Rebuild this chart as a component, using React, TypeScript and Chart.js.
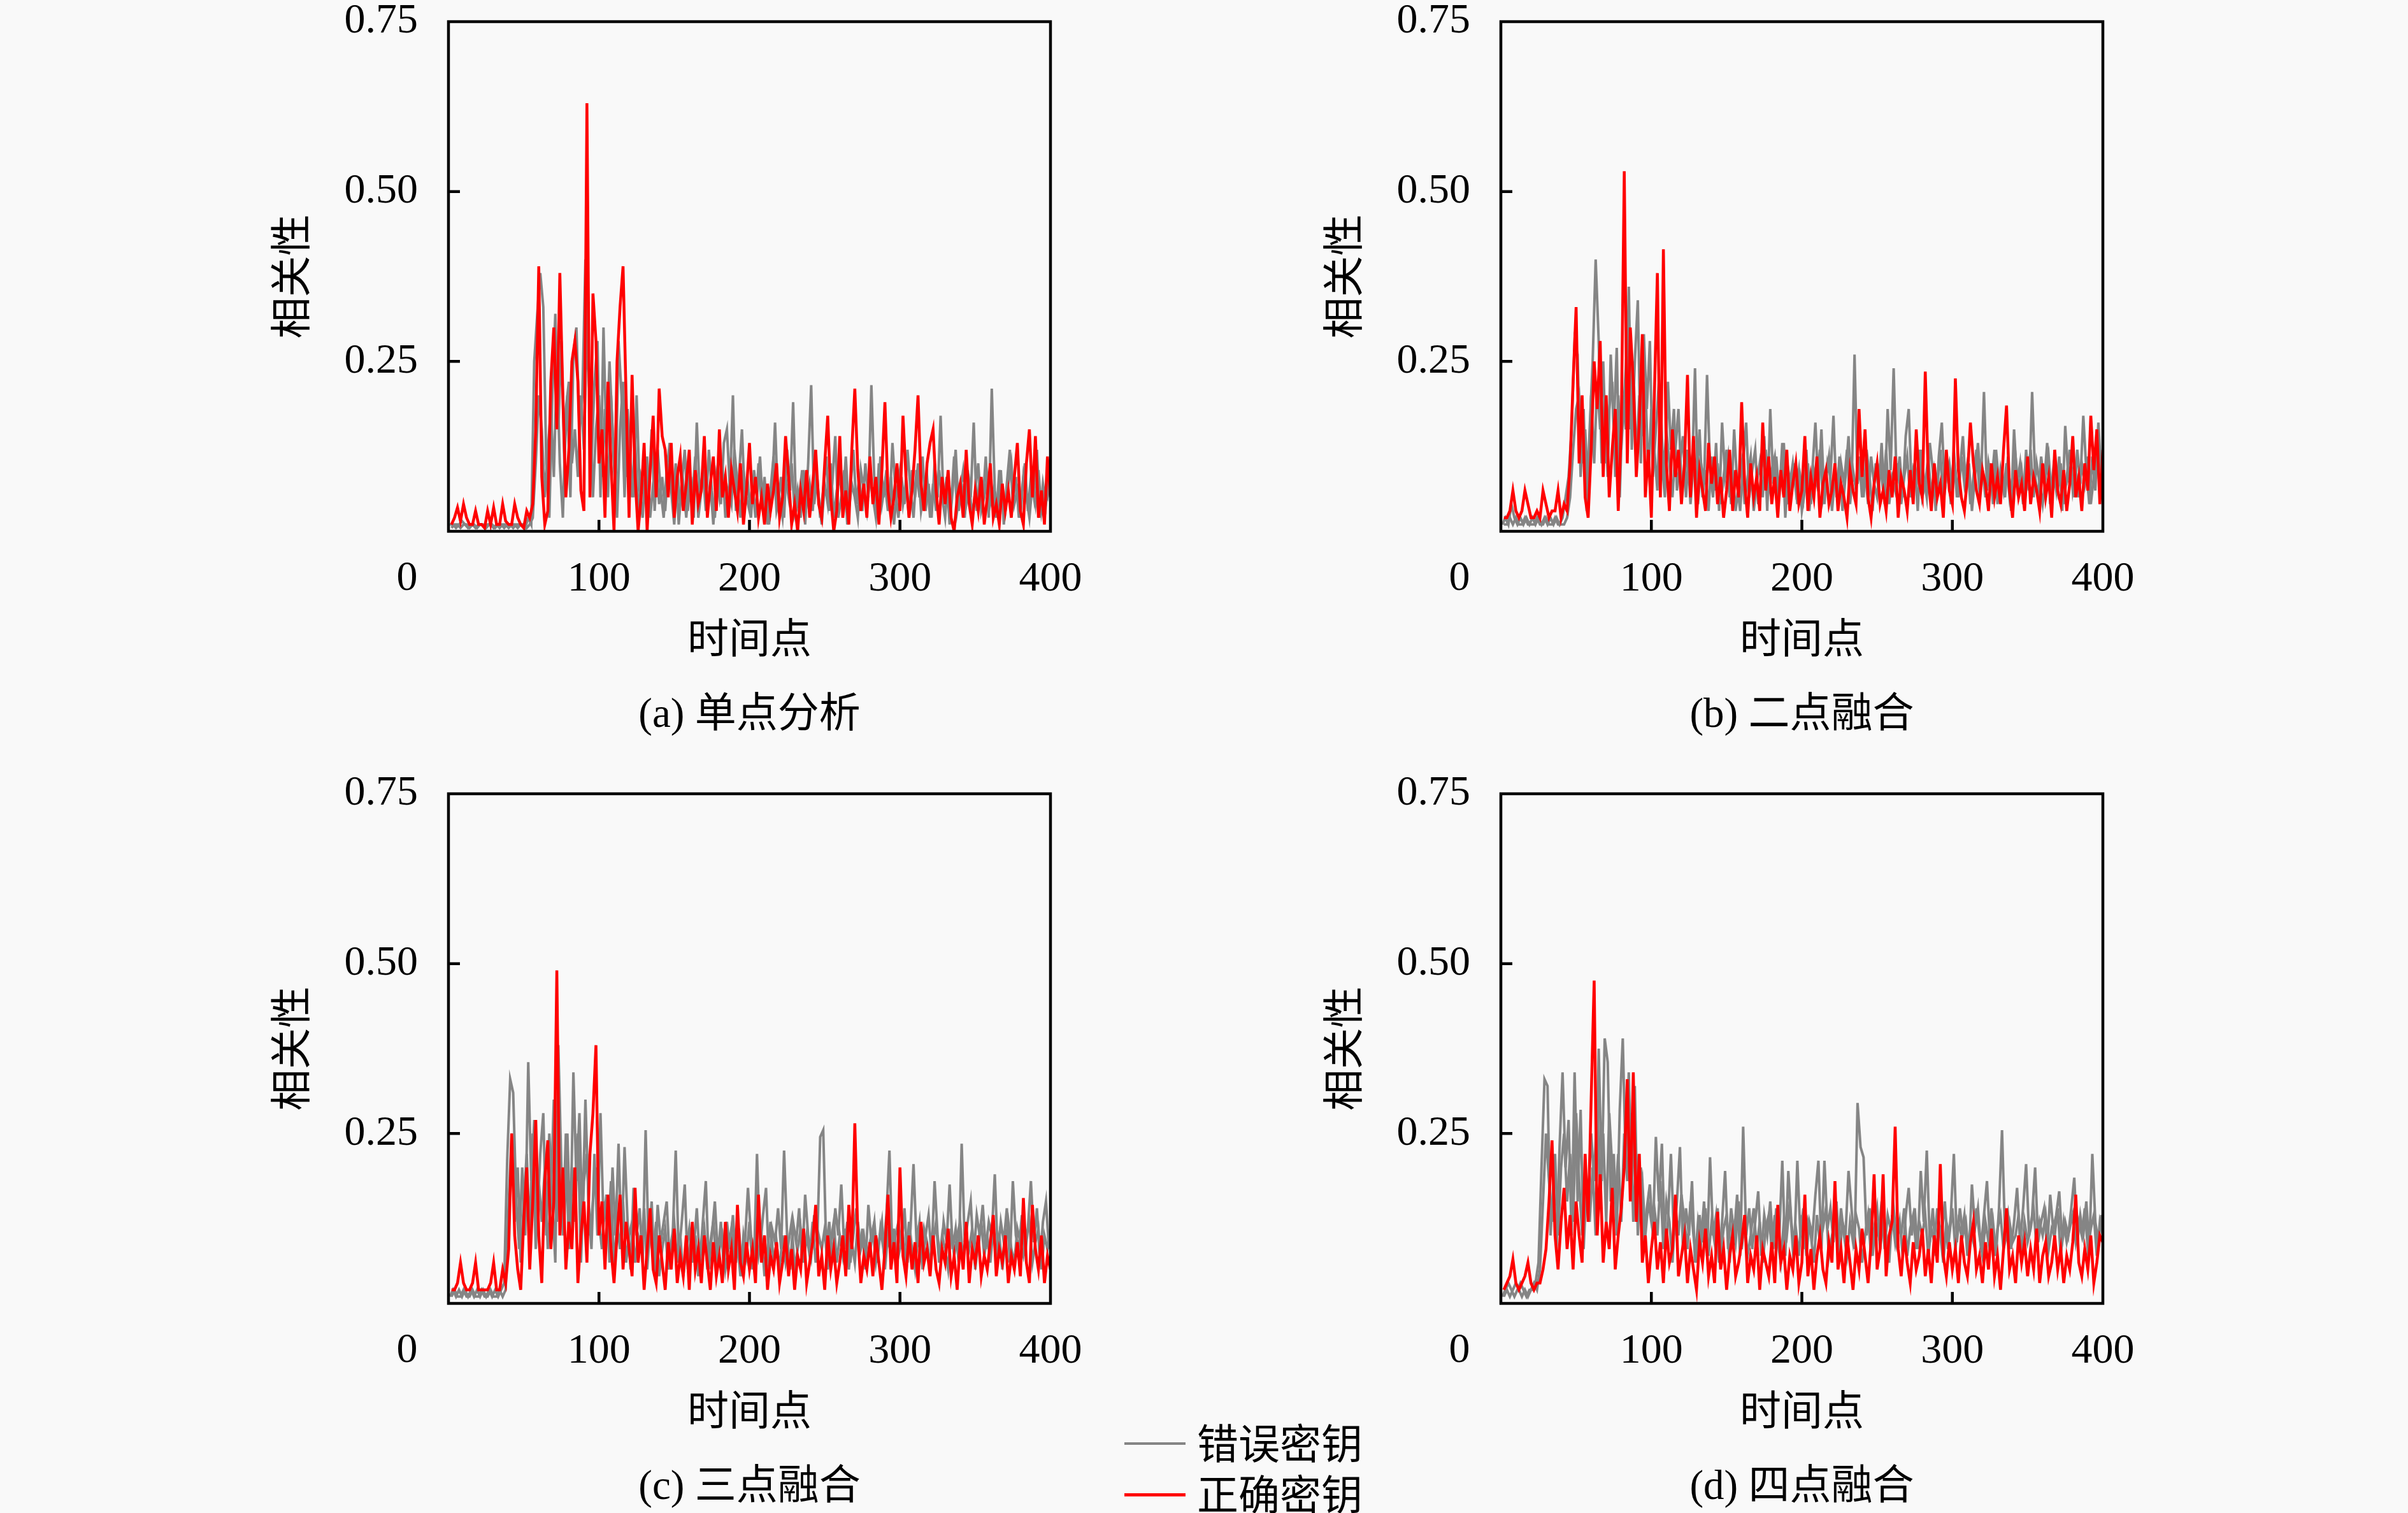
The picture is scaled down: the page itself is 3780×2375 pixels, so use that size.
import { useEffect, useRef } from "react";
import { Chart, registerables } from "chart.js";

Chart.register(...registerables);

const FONT = '"Liberation Serif", "Noto Sans CJK SC", serif';
const RED = "#ff0000";
const GRAY = "#858585";

const xTicks = [0, 100, 200, 300, 400];
const yTicks = [0, 0.25, 0.5, 0.75];
const legendLabels = ["错误密钥", "正确密钥"];

// correct key sampled on even time points, one wrong key on odd points, one on even points

// (a) 单点分析
const redA = [
  .01, .02, .035, .015, .04, .02, .01, .01, .03, .01,
  .01, .005, .03, .01, .035, .01, .01, .04, .015, .01,
  .01, .04, .02, .01, .005, .03, .02, .04, .15, .39,
  .08, .01, .03, .22, .30, .15, .38, .20, .05, .12,
  .25, .28, .22, .06, .03, .63, .05, .35, .28, .10,
  .15, .02, .22, .10, 0, .25, .33, .39, .20, .02,
  .23, .08, 0, .05, .13, 0, .09, .17, .05, .21,
  .14, .12, .05, .13, .02, .08, .11, .03, .07, .12,
  .01, .09, .04, .06, .14, .02, .07, .11, .03, .15,
  .05, .08, .02, .09, .06, .03, .10, .01, .06, .13,
  .04, .08, .02, .05, .01, .07, .03, .06, .10, .02,
  .05, .14, .08, .01, .04, 0, .06, .03, .09, .02,
  .07, .12, .04, .02, .10, .17, .05, 0, .03, .14,
  .02, .06, .01, .12, .21, .09, .03, .07, .02, .11,
  .04, .08, .01, .09, .19, .06, .02, .05, .10, .03,
  .17, .08, .02, .06, .12, .20, .07, .03, .10, .13,
  .15, .06, .01, .08, .04, .09, .02, 0, .05, .07,
  .02, .12, .04, .01, .06, .03, .08, .01, .05, .10,
  .02, .04, .01, .07, .03, .06, .02, .08, .13, .03,
  .01, .10, .15, .05, .14, .02, .06, .01, .11, .05,
];
const grayOddA = [
  .01, .01, .005, .01, .015, .01, .005, .01, .01, .005,
  .01, .01, .005, .01, .01, .005, .01, .01, .005, .01,
  .01, .005, .01, .01, .01, .005, .02, .01, .25, .32,
  .38, .33, .10, .02, .20, .32, .15, .28, .10, .20,
  .05, .26, .30, .15, .20, .40, .25, .10, .22, .28,
  .05, .30, .12, .25, .15, .05, .28, .20, .05, .18,
  .10, .05, .20, .06, .02, .10, .04, .15, .03, .12,
  .06, .02, .09, .13, .04, .10, .01, .07, .12, .03,
  .08, .02, .16, .05, .09, .03, .12, .06, .02, .10,
  .04, .13, .15, .06, .20, .03, .08, .15, .04, .07,
  .02, .09, .05, .11, .03, .07, .01, .06, .16, .04,
  .08, .02, .12, .06, .19, .03, .05, .09, .01, .10,
  .215, .04, .08, .02, .06, .11, .03, .07, .14, .02,
  .05, .09, .01, .06, .12, .04, .08, .03, .10, .05,
  .215, .07, .02, .11, .05, .09, .03, .13, .06, .02,
  .08, .04, .12, .06, .02, .09, .05, .11, .03, .07,
  .02, .10, .05, .17, .04, .08, .01, .06, .12, .03,
  .07, .02, .09, .05, .16, .03, .08, .04, .11, .02,
  .21, .06, .03, .09, .01, .07, .12, .04, .08, .02,
  .06, .10, .03, .08, .05, .12, .02, .07, .04, .09,
];
const grayEvenA = [
  .005, .01, .01, .005, .01, .01, .005, .01, .005, .01,
  .01, .005, .01, .01, .005, .01, .005, .01, .01, .005,
  .01, .01, .005, .01, .01, .005, .01, .02, .10, .20,
  .15, .05, .12, .18, .08, .25, .10, .02, .18, .22,
  .10, .15, .08, .20, .12, .30, .18, .05, .15, .20,
  .08, .18, .05, .20, .10, .02, .15, .22, .08, .12,
  .05, .14, .02, .08, .06, .11, .02, .07, .10, .04,
  .08, .03, .10, .06, .01, .09, .04, .07, .02, .08,
  .05, .11, .02, .06, .09, .03, .07, .01, .08, .05,
  .10, .02, .06, .04, .12, .07, .02, .09, .05, .03,
  .07, .02, .10, .04, .08, .01, .06, .11, .03, .05,
  .02, .08, .05, .10, .03, .06, .02, .09, .04, .07,
  .03, .09, .05, .01, .07, .04, .10, .02, .06, .08,
  .04, .11, .03, .07, .05, .02, .09, .06, .03, .08,
  .05, .02, .10, .04, .07, .03, .08, .01, .06, .09,
  .04, .07, .02, .09, .05, .10, .03, .06, .08, .02,
  .07, .03, .09, .05, .02, .08, .04, .11, .03, .06,
  .09, .04, .07, .02, .06, .10, .03, .05, .08, .04,
  .06, .02, .09, .05, .03, .07, .10, .04, .06, .02,
  .08, .05, .02, .07, .04, .09, .03, .06, .05, .08,
];

// (b) 二点融合
const redB = [
  .02, .02, .03, .06, .03, .02, .03, .06, .04, .02,
  .02, .03, .02, .06, .04, .02, .03, .03, .06, .02,
  .04, .03, .10, .22, .33, .10, .20, .05, .02, .12,
  .25, .18, .28, .08, .20, .05, .12, .18, .03, .15,
  .53, .10, .30, .22, .08, .16, .29, .05, .12, .02,
  .20, .38, .05, .415, .10, .03, .15, .08, .12, .04,
  .10, .23, .05, .14, .02, .09, .06, .03, .13, .07,
  .11, .04, .08, .02, .06, .12, .03, .09, .05, .19,
  .07, .02, .10, .05, .08, .03, .16, .06, .11, .04,
  .08, .02, .09, .05, .12, .03, .07, .10, .04, .06,
  .14, .03, .08, .05, .11, .02, .07, .09, .04, .06,
  .10, .03, .07, .05, .02, .09, .06, .04, .18, .08,
  .15, .05, .02, .07, .10, .04, .06, .03, .09, .05,
  .11, .02, .08, .06, .03, .09, .04, .15, .07, .05,
  .235, .08, .03, .10, .05, .07, .02, .12, .06, .04,
  .225, .09, .05, .03, .08, .16, .10, .06, .04, .09,
  .07, .03, .10, .05, .08, .04, .12, .185, .06, .02,
  .09, .05, .07, .03, .11, .04, .08, .06, .03, .10,
  .05, .08, .02, .12, .06, .04, .09, .03, .07, .14,
  .05, .08, .03, .10, .06, .17, .09, .15, .04, .12,
];
const grayOddB = [
  .01, .02, .01, .04, .02, .01, .02, .01, .02, .01,
  .02, .01, .02, .01, .02, .01, .02, .01, .02, .01,
  .02, .05, .08, .15, .28, .26, .08, .18, .03, .15,
  .25, .40, .28, .10, .20, .08, .26, .15, .27, .05,
  .20, .15, .36, .12, .25, .34, .10, .29, .18, .28,
  .08, .15, .22, .10, .05, .22, .12, .18, .06, .10,
  .14, .05, .12, .08, .24, .04, .10, .07, .23, .09,
  .05, .13, .03, .16, .08, .11, .04, .15, .07, .03,
  .10, .16, .05, .09, .12, .04, .08, .14, .03, .18,
  .07, .11, .05, .13, .02, .09, .06, .10, .04, .08,
  .05, .12, .03, .09, .16, .06, .15, .04, .10, .08,
  .17, .05, .11, .03, .08, .14, .06, .26, .07, .10,
  .05, .12, .08, .03, .10, .06, .13, .04, .18, .09,
  .24, .07, .11, .05, .14, .18, .06, .10, .03, .12,
  .08, .05, .13, .09, .03, .11, .16, .06, .10, .04,
  .12, .05, .09, .14, .06, .10, .03, .08, .13, .07,
  .205, .06, .10, .04, .12, .07, .09, .05, .11, .03,
  .15, .07, .10, .04, .12, .06, .205, .08, .05, .11,
  .07, .13, .04, .09, .06, .11, .03, .155, .08, .10,
  .05, .12, .07, .17, .09, .04, .11, .06, .16, .08,
];
const grayEvenB = [
  .01, .01, .02, .01, .02, .01, .01, .02, .01, .01,
  .01, .02, .01, .01, .02, .01, .01, .02, .01, .01,
  .01, .02, .05, .12, .18, .20, .10, .15, .06, .20,
  .10, .22, .15, .25, .10, .18, .22, .08, .20, .12,
  .20, .28, .15, .25, .10, .20, .14, .22, .08, .18,
  .12, .06, .20, .08, .15, .10, .05, .12, .18, .07,
  .08, .12, .04, .10, .07, .15, .05, .09, .03, .11,
  .06, .10, .04, .08, .12, .05, .09, .03, .07, .10,
  .04, .08, .11, .03, .07, .10, .05, .12, .06, .09,
  .11, .05, .08, .13, .04, .07, .10, .06, .09, .03,
  .06, .10, .04, .09, .07, .12, .05, .08, .11, .03,
  .08, .05, .10, .07, .12, .04, .09, .06, .11, .05,
  .09, .04, .11, .07, .05, .10, .06, .12, .04, .08,
  .06, .10, .04, .08, .11, .05, .09, .07, .12, .05,
  .07, .11, .05, .09, .06, .12, .04, .08, .10, .06,
  .09, .05, .11, .07, .10, .04, .08, .12, .06, .09,
  .05, .10, .07, .12, .04, .09, .06, .10, .05, .08,
  .11, .06, .09, .04, .08, .12, .05, .10, .07, .04,
  .08, .11, .05, .09, .06, .10, .04, .08, .12, .06,
  .09, .05, .10, .07, .11, .04, .08, .12, .06, .10,
];

// (c) 三点融合
const redC = [
  .02, .02, .03, .06, .03, .02, .02, .03, .06, .02,
  .02, .02, .02, .03, .06, .02, .02, .05, .03, .08,
  .25, .10, .05, .02, .12, .20, .05, .15, .27, .10,
  .03, .18, .24, .08, .15, .49, .10, .20, .05, .12,
  .08, .20, .03, .10, .15, .06, .22, .28, .38, .10,
  .15, .05, .16, .08, .03, .10, .16, .05, .12, .08,
  .04, .17, .06, .10, .02, .08, .14, .05, .03, .10,
  .06, .02, .09, .05, .11, .03, .07, .04, .10, .02,
  .12, .05, .08, .03, .10, .06, .02, .09, .04, .07,
  .03, .12, .05, .08, .02, .145, .06, .04, .09, .05,
  .08, .03, .16, .06, .10, .02, .07, .05, .09, .03,
  .06, .10, .04, .08, .02, .07, .05, .11, .03, .06,
  .09, .145, .04, .07, .02, .10, .05, .08, .03, .06,
  .10, .04, .145, .08, .265, .10, .03, .07, .05, .09,
  .04, .10, .06, .02, .08, .16, .05, .09, .03, .20,
  .07, .04, .10, .05, .09, .03, .12, .06, .08, .04,
  .10, .05, .03, .08, .06, .11, .04, .07, .02, .09,
  .05, .12, .03, .08, .06, .10, .04, .07, .05, .09,
  .13, .04, .08, .06, .10, .03, .07, .05, .09, .04,
  .155, .06, .03, .145, .08, .05, .10, .03, .07, .05,
];
const grayOddC = [
  .01, .02, .01, .02, .01, .02, .01, .02, .01, .02,
  .01, .02, .01, .02, .01, .02, .01, .02, .03, .21,
  .33, .31, .15, .08, .20, .10, .355, .18, .27, .12,
  .22, .28, .10, .25, .15, .06, .38, .20, .12, .25,
  .10, .34, .18, .28, .12, .30, .15, .08, .22, .10,
  .28, .12, .16, .06, .20, .10, .235, .08, .23, .12,
  .05, .17, .10, .14, .06, .255, .08, .15, .04, .145,
  .09, .12, .15, .06, .10, .225, .07, .12, .175, .05,
  .10, .08, .14, .06, .12, .18, .05, .10, .15, .07,
  .12, .05, .12, .08, .13, .06, .11, .04, .09, .17,
  .10, .06, .22, .08, .13, .17, .05, .11, .09, .14,
  .08, .225, .10, .05, .12, .09, .14, .06, .16, .10,
  .07, .13, .09, .245, .255, .08, .12, .06, .14, .10,
  .175, .08, .12, .06, .10, .14, .07, .11, .05, .145,
  .09, .12, .06, .11, .08, .13, .225, .07, .10, .12,
  .08, .14, .06, .11, .205, .09, .12, .05, .10, .13,
  .07, .18, .10, .06, .12, .09, .175, .08, .11, .06,
  .235, .09, .12, .15, .07, .13, .10, .145, .08, .12,
  .10, .19, .07, .12, .09, .14, .06, .18, .10, .08,
  .13, .07, .11, .18, .09, .14, .06, .12, .15, .08,
];
const grayEvenC = [
  .01, .02, .01, .01, .02, .01, .01, .02, .01, .01,
  .02, .01, .01, .02, .01, .01, .02, .01, .02, .15,
  .25, .12, .20, .06, .15, .22, .10, .25, .08, .18,
  .12, .20, .08, .15, .30, .12, .22, .10, .25, .08,
  .20, .12, .25, .06, .18, .22, .10, .15, .20, .12,
  .08, .15, .10, .18, .05, .12, .08, .15, .06, .10,
  .12, .06, .10, .08, .14, .05, .11, .07, .12, .04,
  .08, .11, .05, .09, .12, .06, .10, .04, .08, .11,
  .06, .10, .04, .08, .11, .05, .09, .12, .06, .08,
  .10, .05, .08, .11, .06, .09, .04, .10, .07, .12,
  .05, .11, .07, .10, .04, .08, .12, .06, .09, .05,
  .10, .06, .09, .12, .05, .08, .11, .06, .10, .07,
  .12, .06, .10, .08, .11, .05, .09, .12, .06, .10,
  .07, .11, .05, .09, .06, .12, .08, .10, .06, .09,
  .11, .06, .09, .12, .05, .10, .07, .11, .06, .08,
  .10, .06, .12, .08, .05, .10, .07, .11, .09, .06,
  .09, .12, .06, .10, .08, .05, .11, .07, .10, .12,
  .06, .10, .08, .11, .05, .09, .12, .07, .10, .06,
  .11, .07, .10, .05, .09, .12, .08, .06, .11, .09,
  .07, .10, .12, .06, .09, .11, .05, .10, .08, .11,
];

// (d) 四点融合
const redD = [
  .02, .03, .04, .065, .03, .02, .03, .04, .06, .03,
  .02, .03, .03, .05, .08, .15, .24, .10, .05, .12,
  .17, .08, .13, .05, .15, .10, .06, .22, .12, .30,
  .475, .10, .19, .06, .12, .08, .17, .05, .10, .14,
  .20, .33, .15, .34, .12, .22, .06, .10, .03, .08,
  .12, .05, .09, .03, .11, .06, .08, .16, .04, .07,
  .10, .03, .08, .05, .02, .09, .06, .11, .04, .07,
  .03, .135, .05, .08, .02, .07, .10, .04, .06, .09,
  .13, .03, .07, .05, .10, .02, .08, .06, .04, .09,
  .03, .145, .06, .08, .02, .07, .05, .10, .03, .06,
  .16, .04, .08, .02, .07, .10, .05, .03, .09, .06,
  .18, .05, .08, .03, .10, .06, .02, .08, .05, .11,
  .07, .03, .09, .19, .05, .08, .19, .04, .10, .12,
  .26, .08, .04, .10, .06, .03, .09, .05, .07, .11,
  .04, .08, .03, .10, .06, .205, .07, .04, .09, .05,
  .08, .03, .10, .06, .04, .09, .12, .05, .07, .03,
  .09, .05, .11, .04, .07, .02, .08, .14, .05, .07,
  .03, .10, .06, .09, .04, .08, .05, .11, .03, .07,
  .09, .04, .06, .10, .05, .08, .03, .07, .05, .09,
  .16, .06, .04, .08, .05, .10, .03, .06, .10, .09,
];
const grayOddD = [
  .01, .02, .03, .02, .01, .02, .03, .02, .01, .02,
  .02, .03, .06, .20, .33, .32, .10, .18, .08, .23,
  .34, .20, .27, .10, .34, .15, .285, .08, .18, .12,
  .20, .10, .375, .18, .39, .355, .15, .22, .10, .285,
  .39, .20, .34, .15, .32, .10, .20, .08, .14, .175,
  .10, .245, .15, .235, .08, .12, .22, .10, .15, .23,
  .08, .14, .10, .18, .06, .12, .09, .15, .07, .215,
  .10, .13, .06, .12, .195, .08, .14, .10, .16, .07,
  .26, .10, .14, .08, .12, .165, .07, .13, .10, .15,
  .08, .14, .10, .21, .07, .195, .12, .08, .21, .10,
  .14, .07, .12, .10, .16, .21, .08, .21, .11, .14,
  .09, .15, .07, .12, .10, .195, .14, .08, .295, .23,
  .215, .10, .14, .07, .12, .10, .15, .08, .13, .11,
  .14, .09, .12, .07, .13, .17, .10, .14, .08, .195,
  .12, .225, .09, .14, .07, .12, .10, .15, .08, .13,
  .22, .09, .14, .10, .12, .07, .175, .11, .14, .08,
  .13, .18, .09, .12, .07, .14, .255, .10, .13, .08,
  .12, .17, .09, .14, .205, .10, .13, .20, .09, .12,
  .14, .08, .16, .11, .13, .165, .09, .12, .10, .14,
  .185, .09, .13, .10, .15, .08, .22, .12, .09, .13,
];
const grayEvenD = [
  .01, .02, .01, .02, .03, .02, .01, .02, .01, .02,
  .03, .02, .05, .15, .25, .18, .12, .22, .10, .20,
  .25, .15, .22, .12, .28, .18, .10, .20, .15, .25,
  .18, .30, .15, .25, .12, .28, .20, .15, .22, .12,
  .25, .18, .28, .12, .22, .15, .18, .10, .15, .12,
  .14, .10, .18, .08, .15, .12, .06, .14, .10, .16,
  .12, .08, .15, .10, .06, .13, .09, .14, .07, .12,
  .09, .14, .07, .11, .13, .06, .12, .09, .15, .08,
  .12, .07, .10, .14, .08, .12, .06, .11, .13, .08,
  .13, .09, .06, .12, .10, .15, .08, .11, .07, .13,
  .08, .12, .10, .06, .13, .09, .11, .14, .07, .10,
  .12, .08, .14, .10, .07, .12, .09, .13, .11, .06,
  .10, .13, .07, .11, .14, .08, .12, .10, .06, .13,
  .09, .12, .10, .14, .07, .11, .13, .08, .12, .10,
  .13, .07, .11, .09, .14, .10, .06, .12, .10, .14,
  .08, .12, .10, .13, .07, .11, .09, .14, .10, .07,
  .12, .09, .14, .07, .11, .13, .08, .10, .12, .09,
  .10, .13, .07, .12, .09, .11, .14, .08, .12, .10,
  .13, .08, .11, .10, .14, .07, .12, .09, .11, .13,
  .09, .12, .10, .14, .08, .11, .13, .07, .12, .10,
];

// layout (px, page coordinates)
const CANVAS_W = 1325;
const CANVAS_H = 1047;
const Y_AXIS_W = 300;
const X_AXIS_H = 213;
const PAD_TOP = 34;
const PAD_RIGHT = 80;
const PLOT_W = CANVAS_W - Y_AXIS_W - PAD_RIGHT;

const panels = [
  { caption: "(a) 单点分析", left: 404, top: 0, red: redA, grayOdd: grayOddA, grayEven: grayEvenA },
  { caption: "(b) 二点融合", left: 2056, top: 0, red: redB, grayOdd: grayOddB, grayEven: grayEvenB },
  { caption: "(c) 三点融合", left: 404, top: 1212, red: redC, grayOdd: grayOddC, grayEven: grayEvenC },
  { caption: "(d) 四点融合", left: 2056, top: 1212, red: redD, grayOdd: grayOddD, grayEven: grayEvenD },
];

const toPoints = (values: number[], offset: number) =>
  values.map((y, i) => ({ x: i * 2 + offset, y }));

const framePlugin = {
  id: "frame",
  afterDraw(chart: Chart) {
    const { ctx, chartArea: a, scales } = chart;
    const x = scales.x;
    const y = scales.y;
    ctx.save();
    ctx.strokeStyle = "#000";
    ctx.lineWidth = 4.5;
    ctx.beginPath();
    xTicks.slice(1, -1).forEach((v) => {
      const px = x.getPixelForValue(v);
      ctx.moveTo(px, a.bottom);
      ctx.lineTo(px, a.bottom - 18);
    });
    yTicks.slice(1, -1).forEach((v) => {
      const py = y.getPixelForValue(v);
      ctx.moveTo(a.left, py);
      ctx.lineTo(a.left + 18, py);
    });
    ctx.stroke();
    ctx.strokeRect(a.left, a.top, a.right - a.left, a.bottom - a.top);
    // origin label sits left of the axis corner
    ctx.fillStyle = "#000";
    ctx.font = `66px ${FONT}`;
    ctx.textAlign = "center";
    ctx.textBaseline = "middle";
    ctx.fillText(String(xTicks[0]), a.left - 65, a.bottom + 75);
    ctx.restore();
  },
};

function Panel({ caption, left, top, red, grayOdd, grayEven }: any) {
  const ref = useRef<HTMLCanvasElement>(null);

  useEffect(() => {
    if (!ref.current) return;
    const font = { family: FONT, size: 66 };
    const chart = new Chart(ref.current, {
      type: "line",
      data: {
        datasets: [
          { data: toPoints(red, 2), borderColor: RED, borderWidth: 4.5 },
          { data: toPoints(grayOdd, 1), borderColor: GRAY, borderWidth: 4 },
          { data: toPoints(grayEven, 2), borderColor: GRAY, borderWidth: 4 },
        ],
      },
      options: {
        animation: false,
        responsive: false,
        devicePixelRatio: 1,
        layout: { padding: { left: 0, top: PAD_TOP, right: PAD_RIGHT, bottom: 0 } },
        elements: { point: { radius: 0 }, line: { tension: 0 } },
        plugins: { legend: { display: false }, tooltip: { enabled: false } },
        scales: {
          x: {
            type: "linear",
            min: xTicks[0],
            max: xTicks[xTicks.length - 1],
            grid: { display: false, drawTicks: false },
            border: { display: false },
            ticks: {
              stepSize: 100,
              padding: 36,
              color: "#000",
              font,
              maxRotation: 0,
              callback: (v: any) => (v === 0 ? "" : String(v)),
            },
            title: { display: true, text: "时间点", color: "#000", font: { family: FONT, size: 65 }, padding: { top: 0, bottom: 0 } },
            afterFit: (s: any) => {
              s.height = X_AXIS_H;
              s.paddingLeft = 0;
              s.paddingRight = 0;
            },
          },
          y: {
            min: yTicks[0],
            max: yTicks[yTicks.length - 1],
            grid: { display: false, drawTicks: false },
            border: { display: false },
            ticks: {
              stepSize: 0.25,
              padding: 48,
              color: "#000",
              font,
              callback: (v: any) => (v === 0 ? "" : Number(v).toFixed(2)),
            },
            title: { display: true, text: "相关性", color: "#000", font: { family: FONT, size: 65 }, padding: { top: 20, bottom: 0 } },
            afterFit: (s: any) => {
              s.width = Y_AXIS_W;
              s.paddingTop = 0;
              s.paddingBottom = 0;
            },
          },
        },
      },
      plugins: [framePlugin],
    });
    return () => chart.destroy();
  }, [red, grayOdd, grayEven]);

  return (
    <>
      <canvas
        ref={ref}
        width={CANVAS_W}
        height={CANVAS_H}
        style={{ position: "absolute", left, top, width: CANVAS_W, height: CANVAS_H }}
      />
      <div
        style={{
          position: "absolute",
          left: left + Y_AXIS_W,
          top: top + 1119 - 39,
          width: PLOT_W,
          lineHeight: "78px",
          textAlign: "center",
          fontFamily: FONT,
          fontSize: 65,
          color: "#000",
          whiteSpace: "nowrap",
        }}
      >
        {caption}
      </div>
    </>
  );
}

export default function App() {
  useEffect(() => {
    document.body.style.margin = "0";
    document.body.style.background = "#f9f9f9";
  }, []);

  const legendColors = [GRAY, RED];

  return (
    <div style={{ position: "relative", width: 3780, height: 2375, background: "#f9f9f9", overflow: "hidden" }}>
      {panels.map((p) => (
        <Panel key={p.caption} {...p} />
      ))}
      {legendLabels.map((label, i) => (
        <div
          key={label}
          style={{
            position: "absolute",
            left: 1765,
            top: 2223 + i * 80,
            height: 78,
            display: "flex",
            alignItems: "center",
            fontFamily: FONT,
            fontSize: 65,
            color: "#000",
            whiteSpace: "nowrap",
          }}
        >
          <span style={{ display: "inline-block", width: 96, height: i === 0 ? 4 : 5, background: legendColors[i], marginRight: 18, marginTop: 8 }} />
          {label}
        </div>
      ))}
    </div>
  );
}
